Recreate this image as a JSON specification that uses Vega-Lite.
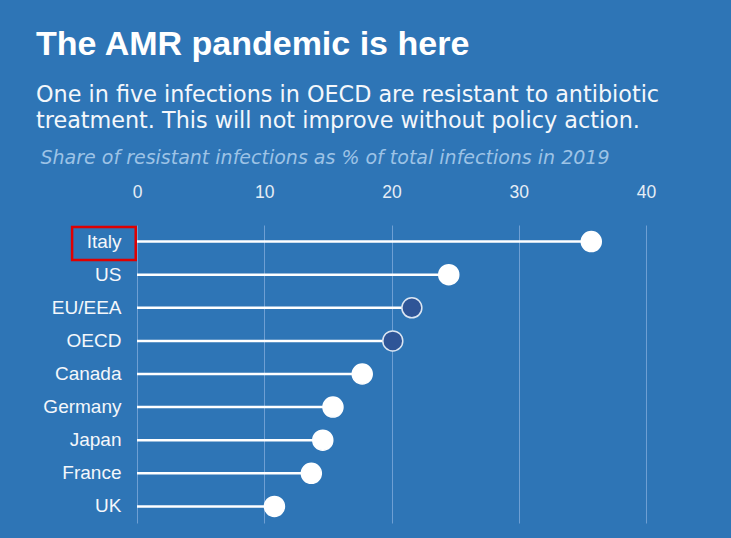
{
  "$schema": "https://vega.github.io/schema/vega-lite/v6.json",
  "autosize": {"type": "none"},
  "width": 509,
  "height": 298,
  "padding": {"left": 137, "top": 225, "right": 85, "bottom": 15},
  "background": "#2E75B6",
  "title": {
    "text": "The AMR pandemic is here",
    "subtitle": ["One in five infections in OECD are resistant to antibiotic", "treatment. This will not improve without policy action."],
    "anchor": "start",
    "frame": "group",
    "dx": -101,
    "offset": 16,
    "font": "Liberation Sans",
    "fontSize": 34,
    "fontWeight": "bold",
    "color": "#FFFFFF",
    "subtitleFont": "DejaVu Sans",
    "subtitleFontSize": 22.3,
    "subtitleColor": "#F4F7FB",
    "subtitleLineHeight": 26,
    "subtitlePadding": 22
  },
  "config": {
    "view": {"stroke": null},
    "font": "Liberation Sans"
  },
  "datasets": {
    "main": [
      {"country": "Italy", "share": 35.7, "group": "country"},
      {"country": "US", "share": 24.5, "group": "country"},
      {"country": "EU/EEA", "share": 21.6, "group": "aggregate"},
      {"country": "OECD", "share": 20.1, "group": "aggregate"},
      {"country": "Canada", "share": 17.7, "group": "country"},
      {"country": "Germany", "share": 15.4, "group": "country"},
      {"country": "Japan", "share": 14.6, "group": "country"},
      {"country": "France", "share": 13.7, "group": "country"},
      {"country": "UK", "share": 10.8, "group": "country"}
    ],
    "box": [
      {"country": "Italy", "from": -5.1, "to": -0.1}
    ]
  },
  "layer": [
    {
      "data": {"name": "main"},
      "mark": {"type": "rule", "color": "#FFFFFF", "strokeWidth": 2.5},
      "encoding": {
        "y": {
          "field": "country",
          "type": "nominal",
          "sort": ["Italy", "US", "EU/EEA", "OECD", "Canada", "Germany", "Japan", "France", "UK"],
          "scale": {"paddingInner": 0, "paddingOuter": 0},
          "axis": {
            "title": null,
            "domain": false,
            "ticks": false,
            "tickSize": 0,
            "grid": false,
            "labelFont": "Liberation Sans",
            "labelFontSize": 19,
            "labelColor": "#F4F7FB",
            "labelPadding": 16
          }
        },
        "x": {
          "field": "share",
          "type": "quantitative",
          "scale": {"domain": [0, 40], "nice": false, "zero": true},
          "axis": {
            "orient": "top",
            "values": [0, 10, 20, 30, 40],
            "domain": false,
            "ticks": false,
            "tickSize": 0,
            "grid": true,
            "gridColor": "#6E9FD3",
            "gridWidth": 1,
            "labelFlush": false,
            "labelFont": "Liberation Sans",
            "labelFontSize": 17.5,
            "labelColor": "#E6EDF5",
            "labelPadding": 24,
            "title": "Share of resistant infections as % of total infections in 2019",
            "titleFont": "DejaVu Sans",
            "titleFontStyle": "italic",
            "titleFontWeight": "normal",
            "titleFontSize": 19,
            "titleColor": "#9DC3E6",
            "titleAlign": "left",
            "titleAnchor": "start",
            "titleBaseline": "alphabetic",
            "titleX": -97,
            "titleY": -62
          }
        },
        "x2": {"datum": 0}
      }
    },
    {
      "data": {"name": "main"},
      "mark": {"type": "point", "filled": true, "size": 400, "opacity": 1, "shape": "circle", "strokeWidth": 1.5},
      "encoding": {
        "y": {"field": "country", "type": "nominal", "sort": ["Italy", "US", "EU/EEA", "OECD", "Canada", "Germany", "Japan", "France", "UK"]},
        "x": {"field": "share", "type": "quantitative"},
        "fill": {
          "field": "group",
          "type": "nominal",
          "scale": {"domain": ["country", "aggregate"], "range": ["#FFFFFF", "#2F5597"]},
          "legend": null
        },
        "stroke": {
          "field": "group",
          "type": "nominal",
          "scale": {"domain": ["country", "aggregate"], "range": ["#FFFFFF", "#DCE6F2"]},
          "legend": null
        }
      }
    },
    {
      "data": {"name": "box"},
      "mark": {"type": "rect", "filled": false, "stroke": "#E00000", "strokeWidth": 2.5, "yOffset": 2},
      "encoding": {
        "y": {"field": "country", "type": "nominal", "sort": ["Italy", "US", "EU/EEA", "OECD", "Canada", "Germany", "Japan", "France", "UK"]},
        "x": {"field": "from", "type": "quantitative"},
        "x2": {"field": "to"}
      }
    }
  ]
}
